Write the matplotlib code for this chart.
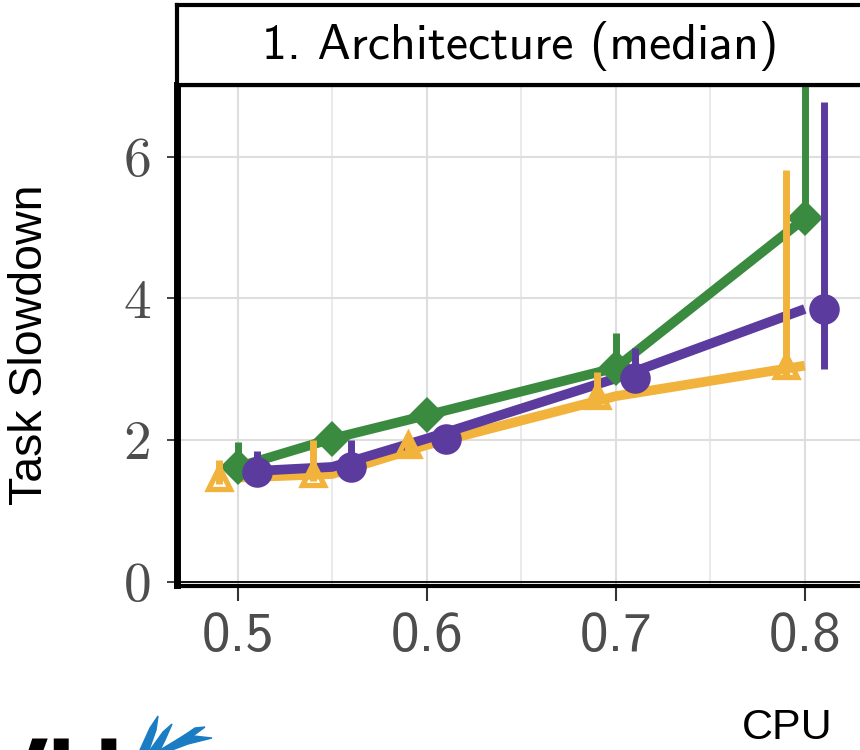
import matplotlib.pyplot as plt
from matplotlib.patches import Polygon

# cpu load levels (x) and the three series; points are dodged, lines are not
x_levels = [0.5, 0.55, 0.6, 0.7, 0.8]
dodge = 0.01

yellow_med = [1.47, 1.52, 1.93, 2.62, 3.05]
yellow_lo = [1.38, 1.42, 1.82, 2.50, 2.92]
yellow_hi = [1.72, 2.00, 2.05, 2.96, 5.81]

green_med = [1.62, 2.02, 2.35, 3.02, 5.13]
green_lo = [1.50, 1.90, 2.24, 2.88, 4.95]
green_hi = [1.97, 2.12, 2.47, 3.51, 7.40]

purple_med = [1.55, 1.62, 2.02, 2.87, 3.85]
purple_lo = [1.46, 1.52, 1.92, 2.74, 3.00]
purple_hi = [1.85, 2.00, 2.12, 3.30, 6.78]

x_ticks = [0.5, 0.6, 0.7, 0.8]
x_minor = [0.55, 0.65, 0.75]
y_ticks = [0, 2, 4, 6]

YELLOW = '#F2B33D'
GREEN = '#3A8A3F'
PURPLE = '#5B3B9E'

W, H = 860, 750
def fx(px):
    return px / W
def fy(py):
    return 1 - py / H

fig = plt.figure(figsize=(8.6, 7.5), dpi=100)

# main panel (its right edge sits just outside the picture)
ax = fig.add_axes([fx(176.5), fy(585.5), fx(863 - 176.5), (585.5 - 85) / H])
ax.set_xlim(0.4676, 0.8308)
ax.set_ylim(-0.054, 7.013)

for v in x_ticks:
    ax.axvline(v, color='#DEDEDE', lw=1.5, zorder=0)
for v in x_minor:
    ax.axvline(v, color='#E6E6E6', lw=1.2, zorder=0)
for v in y_ticks:
    ax.axhline(v, color='#DEDEDE', lw=1.5, zorder=0)
ax.axhline(0, color='black', lw=1.3, zorder=1)

# lines through the undodged positions
for med, col in [(yellow_med, YELLOW), (green_med, GREEN), (purple_med, PURPLE)]:
    ax.plot(x_levels, med, color=col, lw=7, solid_capstyle='butt',
            solid_joinstyle='round', zorder=2)

# error bars + points, dodged
series = [
    (green_med, green_lo, green_hi, GREEN, 0.0, 'D', 18, GREEN),
    (yellow_med, yellow_lo, yellow_hi, YELLOW, -dodge, '^', 16.5, 'none'),
    (purple_med, purple_lo, purple_hi, PURPLE, dodge, 'o', 22, PURPLE),
]
z = 3
for med, lo, hi, col, off, mk, ms, fc in series:
    xs = [v + off for v in x_levels]
    ax.vlines(xs, lo, hi, color=col, lw=5, zorder=z)
    ax.plot(xs, med, ls='none', marker=mk, ms=ms, color=col,
            markerfacecolor=fc, markeredgewidth=3.8 if fc == 'none' else 0,
            zorder=z + 0.5)
    z += 1

ax.set_xticks(x_ticks)
ax.set_xticklabels(['0.5', '0.6', '0.7', '0.8'], family='cmss10')
ax.set_yticks(y_ticks)
ax.set_yticklabels(['0', '2', '4', '6'], family='cmr10')
ax.tick_params(axis='x', length=11, width=1.5, color='#333333', pad=8,
               labelsize=41, labelcolor='#4D4D4D')
ax.tick_params(axis='y', length=7, width=1.3, color='#333333', pad=11,
               labelsize=40, labelcolor='#4D4D4D')

ax.spines['left'].set_linewidth(5)
ax.spines['bottom'].set_linewidth(3)
ax.spines['top'].set_linewidth(3)
ax.spines['right'].set_linewidth(3)

# facet strip on top
strip = fig.add_axes([fx(176.5), fy(85), fx(863 - 176.5), 80 / H])
strip.set_xticks([])
strip.set_yticks([])
for s in strip.spines.values():
    s.set_linewidth(3)
fig.text(fx(520), fy(46), '1. Architecture (median)', family='cmss10',
         fontsize=36, ha='center', va='center')

fig.text(fx(30), fy(345), 'Task Slowdown', family='Liberation Sans',
         fontsize=33.5, rotation=90, ha='center', va='center')
fig.text(fx(742), fy(739), 'CPU', family='Liberation Sans',
         fontsize=31, ha='left', va='baseline')

# corner of the university logo, cut by the picture edge
fig.text(fx(-22), fy(735), 'VU', family='Liberation Sans', fontweight='bold',
         fontsize=75, ha='left', va='top', color='black')
blue = '#1A7DC4'
feathers = [
    [(140, 750), (150, 728), (158, 716), (156, 730), (149, 750)],
    [(150, 750), (163, 732), (172, 724), (165, 740), (160, 750)],
    [(160, 750), (185, 735), (212, 738), (188, 744), (172, 750)],
    [(170, 745), (195, 728), (205, 727), (190, 738), (178, 745)],
]
for pts in feathers:
    fig.patches.append(Polygon([(fx(px), fy(py)) for px, py in pts], closed=True,
                               transform=fig.transFigure, color=blue))

fig.savefig('out.png', dpi=100)
